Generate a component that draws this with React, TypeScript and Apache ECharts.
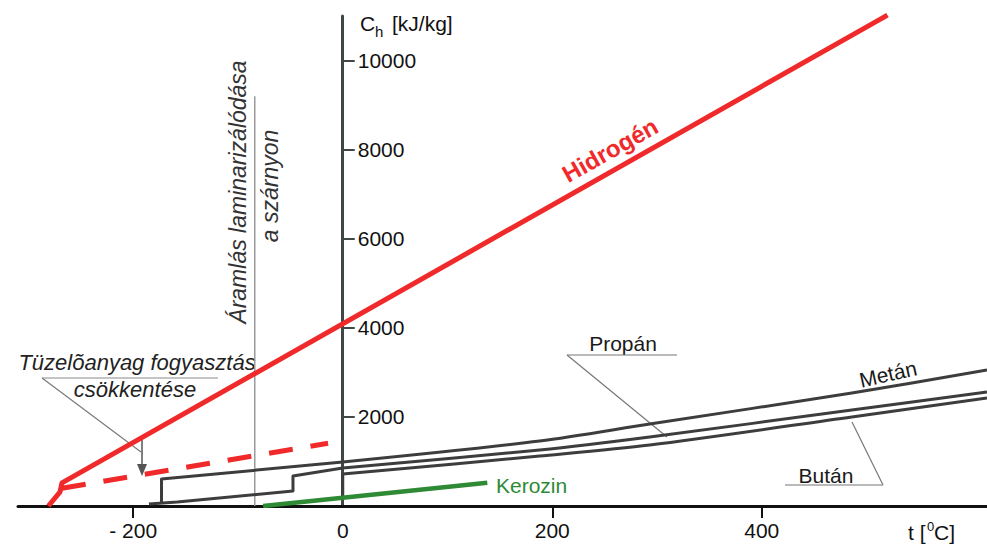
import React, { useEffect, useRef } from "react";
import * as echarts from "echarts";

// ---- axis settings / tick labels ----
const T_MIN = -310;
const T_MAX = 615;
const C_MAX = 11000;
const xTickValues = [-200, 200, 400];
const xLabelValues = [-200, 0, 200, 400];
const yTickValues = [2000, 4000, 6000, 8000, 10000];

// ---- series values: [t (°C), Ch (kJ/kg)] ----
const hidrogen = [[-281, 0], [-270, 310], [-268, 520], [520, 11020]];
const hidrogenCsokkentes = [[-268, 400], [-14, 1410]];
const metanStep = [[-173, 90], [-173, 606], [0, 988]];
const metanCurve = [[0, 988], [188, 1459], [293, 1841], [486, 2537], [615, 3053]];
const propanStep = [[-185, 45], [-158, 90], [-47.5, 337], [-47.5, 673], [0, 853]];
const propanCurve = [[0, 853], [188, 1257], [293, 1549], [486, 2155], [615, 2559]];
const butanStep = [[0, 135], [0, 718]];
const butanCurve = [[0, 718], [188, 1122], [293, 1369], [486, 1998], [615, 2424]];
const kerozin = [[-76, 0], [138, 520]];
const laminarHatar = [[-84, 0], [-84, 9200]];

const FONT = '"Liberation Sans", Arial, sans-serif';
const RED = "#f02a2a";
const GRAY = "#3d3d3d";
const GREEN = "#2e8a34";
const GRID_LEFT = 18;
const GRID_W = 987 - GRID_LEFT;

export default function App() {
  const ref = useRef<HTMLDivElement>(null);
  useEffect(() => {
    if (!ref.current) return;
    const chart = echarts.init(ref.current, null, { renderer: "svg" });
    const lineSeries = (data: number[][], color: string, width: number, extra: any = {}) => ({
      type: "line",
      data,
      showSymbol: false,
      symbol: "none",
      silent: true,
      smooth: extra.smooth ?? false,
      lineStyle: { color, width, cap: "butt", join: "round", ...(extra.lineStyle || {}) },
      z: extra.z ?? 2,
      clip: extra.clip ?? true,
    });
    const zeroOffset = ((0 - T_MIN) / (T_MAX - T_MIN)) * GRID_W;
    const txt = (text: string, x: number, y: number, font: string, fill: string, extra: any = {}) => ({
      type: "text",
      x,
      y,
      rotation: extra.rotation ?? 0,
      style: { text, font, fill, align: extra.align ?? "center", verticalAlign: "middle" },
    });
    chart.setOption({
      animation: false,
      backgroundColor: "#ffffff",
      grid: { left: GRID_LEFT, right: 0, top: 16, bottom: 39 },
      xAxis: {
        type: "value",
        min: T_MIN,
        max: T_MAX,
        splitLine: { show: false },
        axisLine: { onZero: false, lineStyle: { color: "#111", width: 3 } },
        axisTick: { show: true, length: 12, lineStyle: { color: "#111", width: 2 }, customValues: xTickValues },
        axisLabel: {
          customValues: xLabelValues,
          margin: 14,
          fontFamily: FONT,
          fontSize: 21,
          color: "#111",
          formatter: (v: number) => (v < 0 ? "- " + Math.abs(v) : String(v)),
        },
      },
      yAxis: {
        type: "value",
        min: 0,
        max: C_MAX,
        offset: -zeroOffset,
        splitLine: { show: false },
        axisLine: { onZero: false, lineStyle: { color: "#3f4747", width: 3 } },
        axisTick: { show: true, inside: true, length: 12, lineStyle: { color: "#3f4747", width: 2 }, customValues: yTickValues },
        axisLabel: {
          inside: true,
          customValues: yTickValues,
          margin: 15,
          fontFamily: FONT,
          fontSize: 21,
          color: "#111",
          formatter: (v: number) => String(v),
        },
      },
      series: [
        lineSeries(laminarHatar, "#9a9a9a", 1.5, { z: 1 }),
        lineSeries(metanStep, GRAY, 3),
        lineSeries(metanCurve, GRAY, 3, { smooth: 0.3 }),
        lineSeries(propanStep, GRAY, 3),
        lineSeries(propanCurve, GRAY, 3, { smooth: 0.3 }),
        lineSeries(butanStep, GRAY, 3),
        lineSeries(butanCurve, GRAY, 3, { smooth: 0.3 }),
        lineSeries(kerozin, GREEN, 4.5),
        lineSeries(hidrogenCsokkentes, RED, 5, { lineStyle: { type: [24, 18] }, z: 3 }),
        lineSeries(hidrogen, RED, 5, { z: 3, clip: false }),
      ],
      graphic: [
        // y axis name: C_h [kJ/kg]
        txt("C", 360, 23, `21px ${FONT}`, "#111", { align: "left" }),
        txt("h", 375, 31, `15px ${FONT}`, "#111", { align: "left" }),
        txt("[kJ/kg]", 392, 23, `21px ${FONT}`, "#111", { align: "left" }),
        // x axis name: t [0C]
        txt("t [", 908, 532, `21px ${FONT}`, "#111", { align: "left" }),
        txt("0", 927, 526, `13px ${FONT}`, "#111", { align: "left" }),
        txt("C]", 934, 532, `21px ${FONT}`, "#111", { align: "left" }),
        txt("Hidrogén", 610, 150, `bold 24px ${FONT}`, RED, { rotation: 0.513 }),
        txt("Metán", 888, 374, `21px ${FONT}`, "#1a1a1a", { rotation: 0.22 }),
        txt("Propán", 623, 343, `21px ${FONT}`, "#1a1a1a"),
        txt("Bután", 826, 475, `21px ${FONT}`, "#1a1a1a"),
        txt("Kerozin", 496, 485, `21px ${FONT}`, GREEN, { align: "left" }),
        txt("Tüzelõanyag fogyasztás", 137, 362, `italic 22px ${FONT}`, "#222"),
        txt("csökkentése", 135, 389, `italic 22px ${FONT}`, "#222"),
        txt("Áramlás laminarizálódása", 238, 192, `italic 23px ${FONT}`, "#333", { rotation: Math.PI / 2 }),
        txt("a szárnyon", 270, 186, `italic 23px ${FONT}`, "#333", { rotation: Math.PI / 2 }),
        // leader lines
        { type: "line", shape: { x1: 42, y1: 378, x2: 218, y2: 378 }, style: { stroke: "#8a8a8a", lineWidth: 1.2 } },
        { type: "line", shape: { x1: 42, y1: 378, x2: 141, y2: 452 }, style: { stroke: "#7a7a7a", lineWidth: 1.2 } },
        { type: "line", shape: { x1: 142, y1: 440, x2: 142, y2: 468 }, style: { stroke: "#555", lineWidth: 1.5 } },
        { type: "polygon", shape: { points: [[137, 464], [147, 464], [142, 476]] }, style: { fill: "#555" } },
        { type: "line", shape: { x1: 567, y1: 355, x2: 677, y2: 355 }, style: { stroke: "#777", lineWidth: 1.2 } },
        { type: "line", shape: { x1: 567, y1: 355, x2: 667, y2: 437 }, style: { stroke: "#777", lineWidth: 1.2 } },
        { type: "line", shape: { x1: 785, y1: 485, x2: 883, y2: 485 }, style: { stroke: "#777", lineWidth: 1.2 } },
        { type: "line", shape: { x1: 883, y1: 485, x2: 852, y2: 422 }, style: { stroke: "#777", lineWidth: 1.2 } },
      ],
    });
    return () => chart.dispose();
  }, []);
  return <div ref={ref} style={{ position: "absolute", left: 0, top: 0, width: 987, height: 545 }} />;
}
